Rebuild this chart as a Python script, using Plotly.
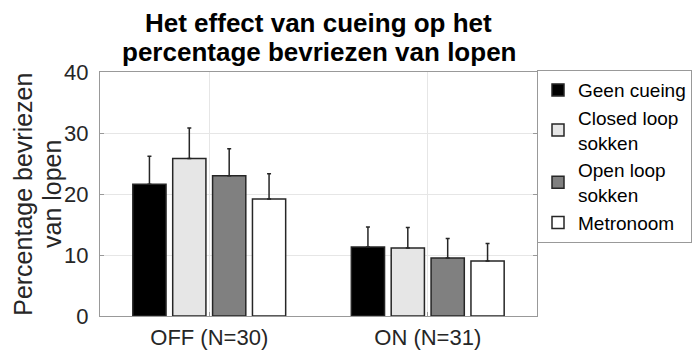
import plotly.graph_objects as go

categories = ["OFF (N=30)", "ON (N=31)"]
series_names = ["Geen cueing", "Closed loop<br>sokken", "Open loop<br>sokken", "Metronoom"]
means = [
    [21.6, 11.3],
    [25.8, 11.15],
    [23.0, 9.5],
    [19.2, 9.0],
]
errors = [
    [4.6, 3.3],
    [5.0, 3.35],
    [4.4, 3.2],
    [4.1, 2.9],
]
colors = ["#000000", "#e6e6e6", "#808080", "#ffffff"]
yticks = [0, 10, 20, 30, 40]
title_lines = ["Het effect van cueing op het", "percentage bevriezen van lopen"]
ytitle_lines = ["Percentage bevriezen", "van lopen"]

FONT = "Liberation Sans, Arial, sans-serif"
fig = go.Figure()
for name, m, e, c in zip(series_names, means, errors, colors):
    fig.add_trace(go.Bar(
        x=[1, 2], y=m, name=name,
        marker=dict(color=c, line=dict(color="#262626", width=1.5)),
        error_y=dict(type="data", array=e, symmetric=False, arrayminus=[0, 0],
                     color="#262626", thickness=1.5, width=2),
    ))

fig.update_layout(
    width=692, height=347,
    margin=dict(l=92, r=163, t=64, b=39, autoexpand=False),
    paper_bgcolor="white", plot_bgcolor="white",
    barmode="group", bargap=0.27, bargroupgap=0.167,
    font=dict(family=FONT, size=20, color="#262626"),
    legend=dict(x=1.0, y=1.008, xanchor="left", yanchor="top",
                bordercolor="#999999", borderwidth=1, bgcolor="white",
                font=dict(family=FONT, size=19, color="#000000"),
                tracegroupgap=0, itemwidth=30),
    showlegend=True,
)
fig.update_xaxes(
    range=[0.5, 2.5], tickmode="array", tickvals=[1, 2], ticktext=categories,
    showgrid=True, gridcolor="#e6e6e6", gridwidth=1,
    showline=True, linecolor="#999999", linewidth=1, mirror=True,
    ticks="inside", ticklen=4, tickcolor="#999999", ticklabelstandoff=2,
    tickfont=dict(size=22, color="#262626"), zeroline=False,
)
fig.update_yaxes(
    range=[0, 40], tickmode="array", tickvals=yticks,
    showgrid=True, gridcolor="#e6e6e6", gridwidth=1,
    showline=True, linecolor="#999999", linewidth=1, mirror="ticks",
    ticks="inside", ticklen=4, tickcolor="#999999", ticklabelstandoff=6,
    tickfont=dict(size=22, color="#262626"), zeroline=False,
)
for txt, yy in zip(title_lines, [1.2016, 1.0820]):
    fig.add_annotation(
        text="<b>" + txt + "</b>", xref="paper", yref="paper", x=0.5, y=yy,
        xanchor="center", yanchor="middle", showarrow=False, borderpad=0,
        font=dict(family=FONT, size=26, color="#000000"),
    )
for txt, xx in zip(ytitle_lines, [-0.1767, -0.1098]):
    fig.add_annotation(
        text=txt, textangle=-90, xref="paper", yref="paper", x=xx, y=0.5,
        xanchor="center", yanchor="middle", showarrow=False, borderpad=0,
        font=dict(family=FONT, size=25, color="#262626"),
    )
fig.write_html("out.html")
